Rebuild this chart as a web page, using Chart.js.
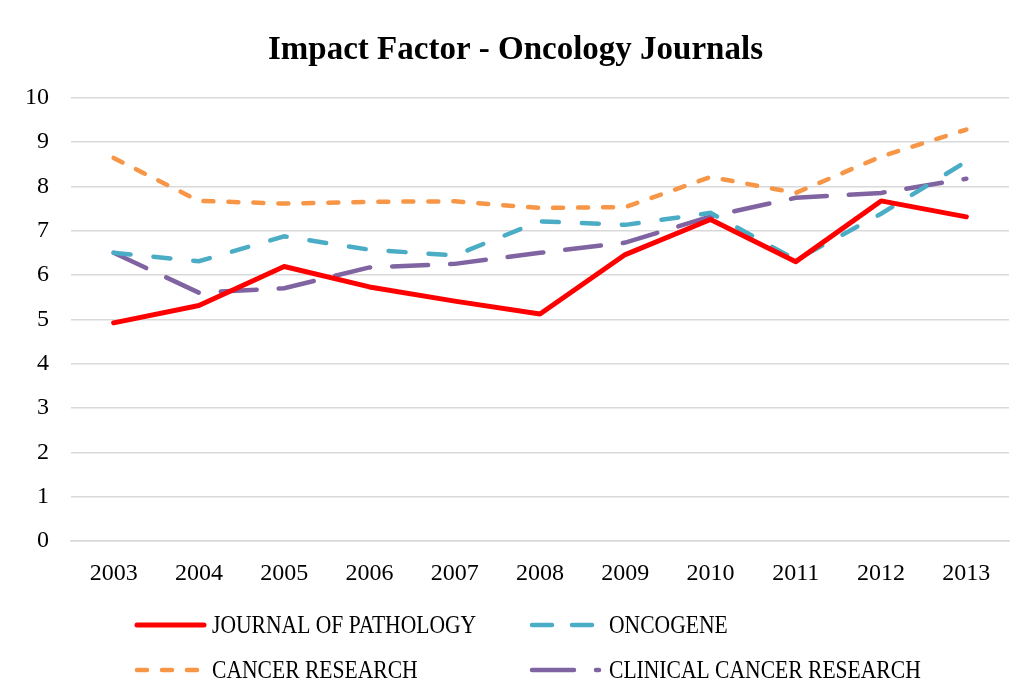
<!DOCTYPE html>
<html>
<head>
<meta charset="utf-8">
<script src="https://cdn.jsdelivr.net/npm/chart.js@4.4.1/dist/chart.umd.min.js"></script>
<style>
  html, body { margin: 0; padding: 0; background: #fff; }
  #wrap { position: relative; width: 1024px; height: 696px; }
</style>
</head>
<body>
<div id="wrap"><canvas id="lineChartCanvas"></canvas></div>
<script>
// chart data
var years = ['2003', '2004', '2005', '2006', '2007', '2008', '2009', '2010', '2011', '2012', '2013'];
var journalOfPathology = [4.92, 5.31, 6.19, 5.73, 5.41, 5.12, 6.46, 7.25, 6.30, 7.67, 7.31];
var oncogene = [6.50, 6.31, 6.87, 6.57, 6.44, 7.21, 7.13, 7.40, 6.34, 7.38, 8.56];
var cancerResearch = [8.64, 7.67, 7.61, 7.65, 7.66, 7.51, 7.53, 8.21, 7.85, 8.67, 9.28];
var clinicalCancerResearch = [6.50, 5.60, 5.70, 6.17, 6.25, 6.50, 6.73, 7.32, 7.74, 7.85, 8.17];
var seriesNames = ['JOURNAL OF PATHOLOGY', 'ONCOGENE', 'CANCER RESEARCH', 'CLINICAL CANCER RESEARCH'];
var yTicks = [0, 1, 2, 3, 4, 5, 6, 7, 8, 9, 10];

var serif = "'Liberation Serif', 'Times New Roman', serif";

// legend drawn in two columns like the original
var twoColLegend = {
  id: 'twoColLegend',
  afterDraw: function (chart) {
    var ctx = chart.ctx;
    var cols = [135, 530];
    var textX = [212, 609];
    var rows = [625, 670];
    chart.data.datasets.forEach(function (ds, i) {
      var x = cols[i % 2];
      var y = rows[Math.floor(i / 2)];
      ctx.save();
      ctx.strokeStyle = ds.borderColor;
      ctx.lineWidth = ds.borderWidth;
      ctx.lineCap = 'round';
      ctx.setLineDash(ds.legendDash || []);
      ctx.beginPath();
      ctx.moveTo(x + 2, y);
      ctx.lineTo(x + 69, y);
      ctx.stroke();
      ctx.restore();

      ctx.save();
      ctx.fillStyle = '#000';
      ctx.font = '26px ' + serif;
      ctx.textBaseline = 'middle';
      ctx.translate(textX[i % 2], y + 1);
      ctx.scale(0.83, 1);
      ctx.fillText(ds.label, 0, 0);
      ctx.restore();
    });
  }
};

var ctx = document.getElementById('lineChartCanvas').getContext('2d');

var lineChart = new Chart(ctx, {
  type: 'line',
  data: {
    labels: years,
    datasets: [{
      label: seriesNames[0],
      data: journalOfPathology,
      borderColor: '#FF0000',
      borderWidth: 5,
      borderCapStyle: 'round',
      borderJoinStyle: 'round'
    }, {
      label: seriesNames[1],
      data: oncogene,
      borderColor: '#4BACC6',
      borderWidth: 4.5,
      borderDash: [17, 23],
      legendDash: [20, 20],
      borderCapStyle: 'round'
    }, {
      label: seriesNames[2],
      data: cancerResearch,
      borderColor: '#F79646',
      borderWidth: 4.5,
      borderDash: [10, 15],
      legendDash: [10, 15],
      borderCapStyle: 'round'
    }, {
      label: seriesNames[3],
      data: clinicalCancerResearch,
      borderColor: '#8064A2',
      borderWidth: 4.5,
      borderDash: [36, 22],
      legendDash: [42, 22],
      borderCapStyle: 'round'
    }]
  },
  options: {
    responsive: true,
    maintainAspectRatio: false,
    animation: false,
    elements: {
      point: { radius: 0, hoverRadius: 0 },
      line: { tension: 0, fill: false }
    },
    layout: {
      padding: { left: 22, right: 15, top: 0, bottom: 100 }
    },
    plugins: {
      legend: { display: false },
      tooltip: { enabled: false },
      title: {
        display: true,
        text: 'Impact Factor - Oncology Journals',
        color: '#000',
        font: { family: serif, size: 33, weight: 'bold', lineHeight: 1.2 },
        padding: { top: 31, bottom: 27 }
      }
    },
    scales: {
      x: {
        offset: true,
        grid: { display: false, drawTicks: false },
        border: { display: true, color: '#D9D9D9', width: 1.5 },
        ticks: {
          color: '#000',
          font: { family: serif, size: 24 },
          padding: 18,
          maxRotation: 0
        },
        afterFit: function (scale) { scale.height = 55; }
      },
      y: {
        min: 0,
        max: 10,
        afterBuildTicks: function (scale) {
          scale.ticks = yTicks.map(function (v) { return { value: v }; });
        },
        grid: { color: '#D9D9D9', lineWidth: 1.5, drawTicks: false },
        border: { display: false },
        ticks: {
          color: '#000',
          font: { family: serif, size: 24 },
          padding: 22
        },
        afterFit: function (scale) { scale.width = 49; }
      }
    }
  },
  plugins: [twoColLegend]
});
</script>
</body>
</html>
